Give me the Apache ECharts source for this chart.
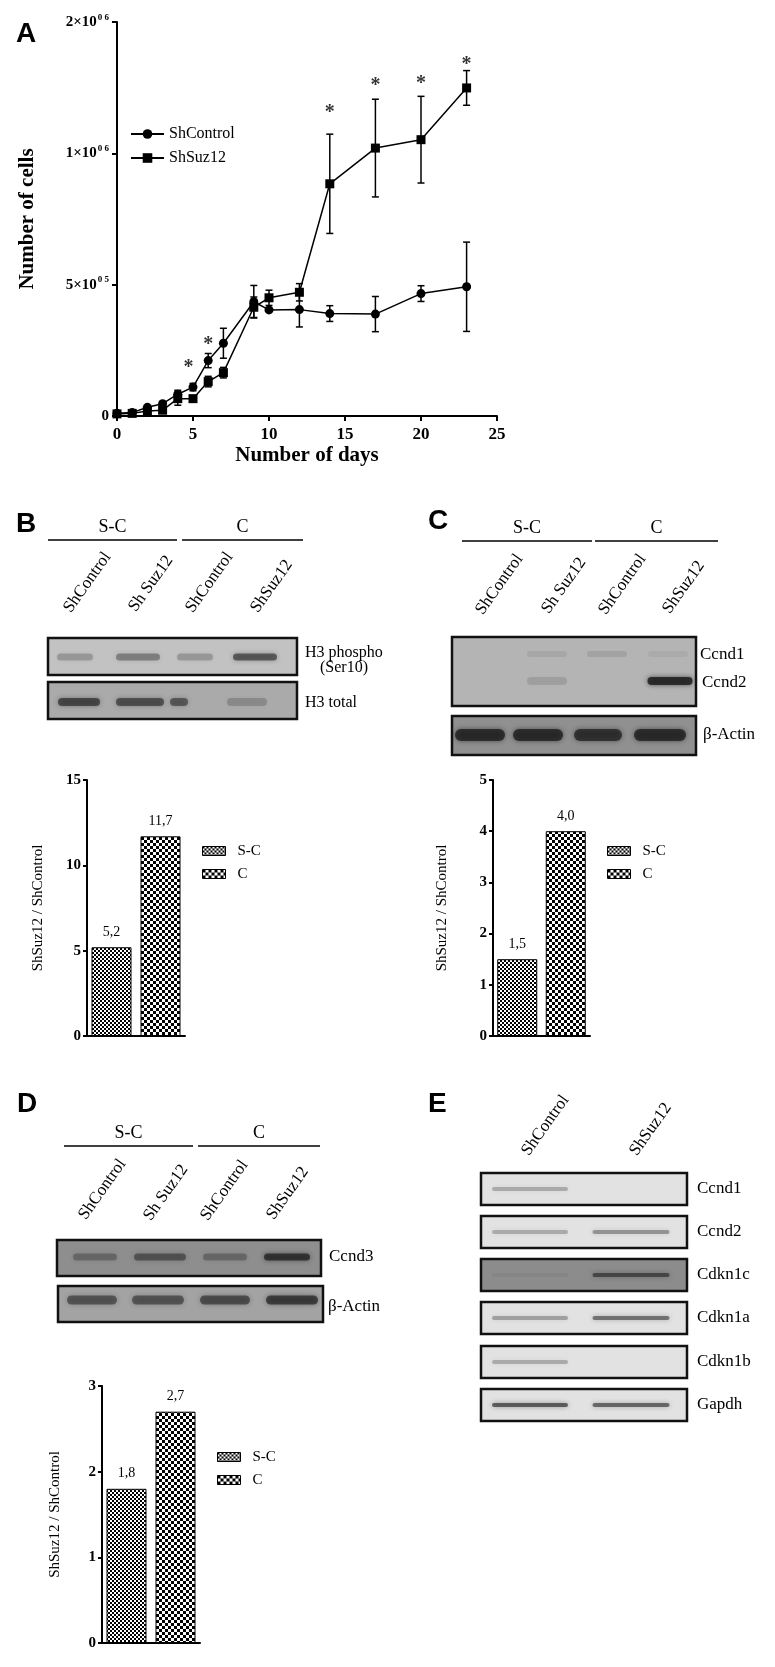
<!DOCTYPE html>
<html><head><meta charset="utf-8">
<script src="https://cdn.jsdelivr.net/npm/echarts@6/dist/echarts.min.js"></script>
<style>html,body{margin:0;padding:0;background:#fff}#c{width:775px;height:1667px}</style>
</head><body><div id="c"></div>
<script>
// ---------- DATA ----------
const days = [0,1,2,3,4,5,6,7,9,10,12,14,17,20,23];
const ctrlMean = [10000,13000,33000,47000,83000,110000,211000,277000,435000,404000,405000,390000,388000,466000,492000];
const ctrlErr  = [3000,3000,6000,5000,15000,14000,27000,57000,62000,5000,66000,30000,67000,30000,170000];
const suzMean  = [8000,10000,19000,22000,66000,66000,131000,165000,414000,450000,471000,884000,1020000,1052000,1249000];
const suzErr   = [2000,2000,4000,4000,25000,6000,20000,20000,39000,29000,33000,189000,186000,165000,66000];
const starDays = [4.7,6,14,17,20,23];
const starY    = [200000,288000,1171000,1273000,1280000,1352000];
const yTicksA  = [0,500000,1000000,1500000];
const xTicksA  = [0,5,10,15,20,25];

const barCats = ['S-C','C'];
const valuesB = [5.2,11.7];
const valuesC = [1.5,4.0];
const valuesD = [1.8,2.7];

const laneLabels4 = ['ShControl','Sh Suz12','ShControl','ShSuz12'];
const laneLabels2 = ['ShControl','ShSuz12'];
// blot band intensities (0..1), per lane
const bandB_H3p   = [0.22,0.35,0.22,0.55];
const bandB_H3t   = [0.6,0.55,0.5,0.2];
const bandC_Ccnd1 = [0.0,0.08,0.1,0.05];
const bandC_Ccnd2 = [0.0,0.12,0.0,0.8];
const bandC_Act   = [0.75,0.75,0.7,0.75];
const bandD_Ccnd3 = [0.3,0.45,0.3,0.7];
const bandD_Act   = [0.5,0.5,0.55,0.65];
const eRows = ['Ccnd1','Ccnd2','Cdkn1c','Cdkn1a','Cdkn1b','Gapdh'];
const eBands = [[0.25,0.0],[0.25,0.35],[0.05,0.55],[0.3,0.5],[0.25,0.0],[0.6,0.55]];

// ---------- STYLE HELPERS ----------
const SERIF = 'Liberation Serif';
const SANS = 'Liberation Sans';
function checker(cell){
  const c=document.createElement('canvas'); c.width=c.height=cell*2;
  const g=c.getContext('2d'); g.fillStyle='#fff'; g.fillRect(0,0,cell*2,cell*2);
  g.fillStyle='#000'; g.fillRect(0,0,cell,cell); g.fillRect(cell,cell,cell,cell);
  return c;
}
const patSC = {image: checker(2), repeat:'repeat'};
const patC  = {image: checker(3), repeat:'repeat'};

const G = [];
function txt(x,y,text,o){o=o||{};
  G.push({type:'text',x:x,y:y,rotation:o.rot||0,z:20,style:{text:text,x:0,y:0,
    fontFamily:o.ff||SERIF,fontSize:o.fs||17,fontWeight:o.fw||'normal',fill:'#000',
    align:o.align||'left',textAlign:o.align||'left',verticalAlign:o.va||'middle',textVerticalAlign:o.va||'middle'}});
}
function line(x1,y1,x2,y2,w){G.push({type:'line',z:20,shape:{x1,y1,x2,y2},style:{stroke:'#000',lineWidth:w||1.5}});}
function bands(bandY,bandH,lanes,vals){
  lanes.forEach((ln,i)=>{const a=vals[i]; if(a<=0) return;
    const col='rgba(25,25,25,'+a+')';
    G.push({type:'rect',z:11,shape:{x:ln[0]-ln[1]/2,y:bandY-bandH/2,width:ln[1],height:bandH,r:bandH/2},
      style:{fill:col,shadowBlur:5,shadowColor:col}});
  });
}
function blotBox(x,y,w,h,bg){G.push({type:'rect',z:10,shape:{x,y,width:w,height:h},style:{fill:bg}});}
function blotBorder(x,y,w,h){G.push({type:'rect',z:12,shape:{x,y,width:w,height:h},style:{fill:'none',stroke:'#111',lineWidth:2.5}});}
function blot(x,y,w,h,bg,bandY,bandH,lanes,vals){
  blotBox(x,y,w,h,bg); bands(bandY,bandH,lanes,vals); blotBorder(x,y,w,h);
}
const ROT = 0.95;
const DX = 7;
function groupHeader(x0,x1,x2,x3,yLine,yText){
  txt((x0+x1)/2,yText,'S-C',{fs:18,align:'center'});
  txt((x2+x3)/2,yText,'C',{fs:18,align:'center'});
  line(x0,yLine,x1,yLine); line(x2,yLine,x3,yLine);
}

// Panel letters
txt(16,34,'A',{ff:SANS,fw:'bold',fs:28});
txt(16,524,'B',{ff:SANS,fw:'bold',fs:28});
txt(428,521,'C',{ff:SANS,fw:'bold',fs:28});
txt(17,1104,'D',{ff:SANS,fw:'bold',fs:28});
txt(428,1104,'E',{ff:SANS,fw:'bold',fs:28});

// Panel B blots
groupHeader(48,177,182,303,540,527);
[[60,611],[125,610],[182,611],[247,611]].forEach((p,i)=>txt(p[0]+DX,p[1],laneLabels4[i],{rot:ROT}));
blot(48,638,249,37,'#c2c2c2',657,7,[[75,36],[138,44],[195,36],[255,44]],bandB_H3p);
blot(48,682,249,37,'#aaaaaa',702,8,[[79,42],[140,48],[179,18],[247,40]],bandB_H3t);
txt(305,653,'H3 phospho',{fs:16}); txt(320,668,'(Ser10)',{fs:16}); txt(305,703,'H3 total',{fs:16});

// Panel C blots
groupHeader(462,592,595,718,541,528);
[[472,613],[538,612],[595,613],[659,612]].forEach((p,i)=>txt(p[0]+DX,p[1],laneLabels4[i],{rot:ROT}));
blotBox(452,637,244,69,'#b4b4b4');
bands(654,6,[[482,40],[547,40],[607,40],[668,40]],bandC_Ccnd1);
bands(681,8,[[482,40],[547,40],[607,40],[670,45]],bandC_Ccnd2);
blotBorder(452,637,244,69);
blot(452,716,244,39,'#909090',735,12,[[480,50],[538,50],[598,48],[660,52]],bandC_Act);
txt(700,655,'Ccnd1',{fs:17}); txt(702,683,'Ccnd2',{fs:17}); txt(703,735,'β-Actin',{fs:17});

// Panel D blots
groupHeader(64,193,198,320,1146,1133);
[[75,1218],[140,1219],[197,1219],[263,1218]].forEach((p,i)=>txt(p[0]+DX,p[1],laneLabels4[i],{rot:ROT}));
blot(57,1240,264,36,'#8e8e8e',1257,7,[[95,44],[160,52],[225,44],[287,46]],bandD_Ccnd3);
blot(58,1286,265,36,'#a3a3a3',1300,9,[[92,50],[158,52],[225,50],[292,52]],bandD_Act);
txt(329,1257,'Ccnd3',{fs:17}); txt(328,1307,'β-Actin',{fs:17});

// Panel E blots
[[518,1154],[626,1154]].forEach((p,i)=>txt(p[0]+DX,p[1],laneLabels2[i],{rot:ROT}));
const eY=[1173,1216,1259,1302,1346,1389];
eRows.forEach((r,i)=>{
  const bg = r==='Cdkn1c' ? '#8c8c8c' : '#e2e2e2';
  blot(481,eY[i],206,32,bg,eY[i]+16,4,[[530,76],[631,77]],eBands[i]);
  txt(697,eY[i]+16,r,{fs:17});
});

// ---------- CHART ----------
const axisLineBlack = {show:true,lineStyle:{color:'#000',width:2}};
const tickBlack = {show:true,length:5,lineStyle:{color:'#000',width:2}};
function supLabel(v){
  if(v===0) return '0';
  const e=Math.floor(Math.log10(v)); const m=Math.round(v/Math.pow(10,e));
  return m+'×10{s|0 '+e+'}';
}
function barGrid(idx,left,top,width,height,vals,max,gap){
  const lbl = {show:true,position:'top',distance:8,fontFamily:SERIF,fontSize:14,color:'#000',formatter:p=>p.value.toFixed(1).replace('.',',')};
  return {
    grid:{left:left,top:top,width:width,height:height},
    xAxis:{type:'category',gridIndex:idx,data:barCats,axisLine:axisLineBlack,axisTick:{show:false},axisLabel:{show:false}},
    yAxis:{type:'value',gridIndex:idx,min:0,max:max,interval:max===15?5:1,axisLine:axisLineBlack,axisTick:{show:true,length:4,lineStyle:{color:'#000',width:2}},
      splitLine:{show:false},axisLabel:{margin:6,fontFamily:SERIF,fontWeight:'bold',fontSize:15,color:'#000'},
      name:'ShSuz12 / ShControl',nameLocation:'middle',nameGap:gap,nameTextStyle:{fontFamily:SERIF,fontSize:15,color:'#000'}},
    series:[
      {type:'bar',name:'S-C',xAxisIndex:idx,yAxisIndex:idx,barWidth:40,barGap:'-100%',data:[vals[0],'-'],
        itemStyle:{color:patSC,borderColor:'#000',borderWidth:1},label:lbl},
      {type:'bar',name:'C',xAxisIndex:idx,yAxisIndex:idx,barWidth:40,barGap:'-100%',data:['-',vals[1]],
        itemStyle:{color:patC,borderColor:'#000',borderWidth:1},label:lbl}
    ]
  };
}
const bB = barGrid(1,87,780,98,256,valuesB,15,41);
const bC = barGrid(2,493,780,97,256,valuesC,5,43);
const bD = barGrid(3,102,1386,98,257,valuesD,3,39);

function errRender(params,api){
  const x=api.value(0),y=api.value(1),e=api.value(2);
  const t=api.coord([x,y+e]), b=api.coord([x,y-e]); const w=3.5;
  const st={stroke:'#000',lineWidth:1.5};
  return {type:'group',children:[
    {type:'line',shape:{x1:t[0],y1:t[1],x2:b[0],y2:b[1]},style:st},
    {type:'line',shape:{x1:t[0]-w,y1:t[1],x2:t[0]+w,y2:t[1]},style:st},
    {type:'line',shape:{x1:b[0]-w,y1:b[1],x2:b[0]+w,y2:b[1]},style:st}]};
}

const legendBar = (left,top)=>({left:left,top:top,orient:'vertical',padding:0,itemWidth:23,itemHeight:9,itemGap:7,icon:'rect',
  data:['S-C','C'],selectedMode:false,textStyle:{fontFamily:SERIF,fontSize:15,color:'#000',lineHeight:16,padding:[0,0,0,7]},
  itemStyle:{borderColor:'#000',borderWidth:1}});

const option = {
  animation:false,
  backgroundColor:'#fff',
  graphic:{elements:G},
  grid:[{left:117,top:22,width:380,height:394},bB.grid,bC.grid,bD.grid],
  xAxis:[
    {type:'value',gridIndex:0,min:0,max:25,interval:5,axisLine:axisLineBlack,axisTick:tickBlack,splitLine:{show:false},
     axisLabel:{margin:10,fontFamily:SERIF,fontWeight:'bold',fontSize:17,color:'#000'},
     name:'Number of days',nameLocation:'middle',nameGap:29,nameTextStyle:{fontFamily:SERIF,fontWeight:'bold',fontSize:21,color:'#000'}},
    bB.xAxis,bC.xAxis,bD.xAxis],
  yAxis:[
    {type:'value',gridIndex:0,min:0,max:1500000,interval:500000,axisLine:axisLineBlack,
     axisTick:{show:true,length:5,lineStyle:{color:'#000',width:2}},splitLine:{show:false},
     axisLabel:{margin:8,fontFamily:SERIF,fontWeight:'bold',fontSize:15,color:'#000',formatter:supLabel,
       rich:{s:{fontFamily:SERIF,fontWeight:'bold',fontSize:9,color:'#000',padding:[0,0,9,1]}}},
     name:'Number of cells',nameLocation:'middle',nameGap:79,nameTextStyle:{fontFamily:SERIF,fontWeight:'bold',fontSize:21,color:'#000'}},
    bB.yAxis,bC.yAxis,bD.yAxis],
  legend:[
    {left:130,top:126,orient:'vertical',padding:0,itemWidth:33,itemHeight:12,itemGap:8,selectedMode:false,
     data:['ShControl','ShSuz12'],textStyle:{fontFamily:SERIF,fontSize:16,color:'#000',lineHeight:14}},
    legendBar(202,843),legendBar(607,843),legendBar(217,1449)
  ],
  series:[
    {type:'custom',name:'ctrlErr',xAxisIndex:0,yAxisIndex:0,renderItem:errRender,z:1,
     data:days.map((d,i)=>[d,ctrlMean[i],ctrlErr[i]]),encode:{x:0,y:1}},
    {type:'custom',name:'suzErr',xAxisIndex:0,yAxisIndex:0,renderItem:errRender,z:1,
     data:days.map((d,i)=>[d,suzMean[i],suzErr[i]]),encode:{x:0,y:1}},
    {type:'line',name:'ShControl',xAxisIndex:0,yAxisIndex:0,symbol:'circle',symbolSize:9,z:3,
     data:days.map((d,i)=>[d,ctrlMean[i]]),lineStyle:{color:'#000',width:1.5},itemStyle:{color:'#000'}},
    {type:'line',name:'ShSuz12',xAxisIndex:0,yAxisIndex:0,symbol:'rect',symbolSize:9,z:3,
     data:days.map((d,i)=>[d,suzMean[i]]),lineStyle:{color:'#000',width:1.5},itemStyle:{color:'#000'}},
    {type:'scatter',name:'stars',xAxisIndex:0,yAxisIndex:0,symbolSize:1,itemStyle:{color:'rgba(0,0,0,0)'},z:4,
     data:starDays.map((d,i)=>[d,starY[i]]),
     label:{show:true,position:'inside',offset:[0,4],formatter:'*',fontFamily:SERIF,fontWeight:'bold',fontSize:20,color:'#000'}},
    ...bB.series,...bC.series,...bD.series
  ]
};
const chart = echarts.init(document.getElementById('c'),null,{renderer:'canvas'});
chart.setOption(option);
</script></body></html>
